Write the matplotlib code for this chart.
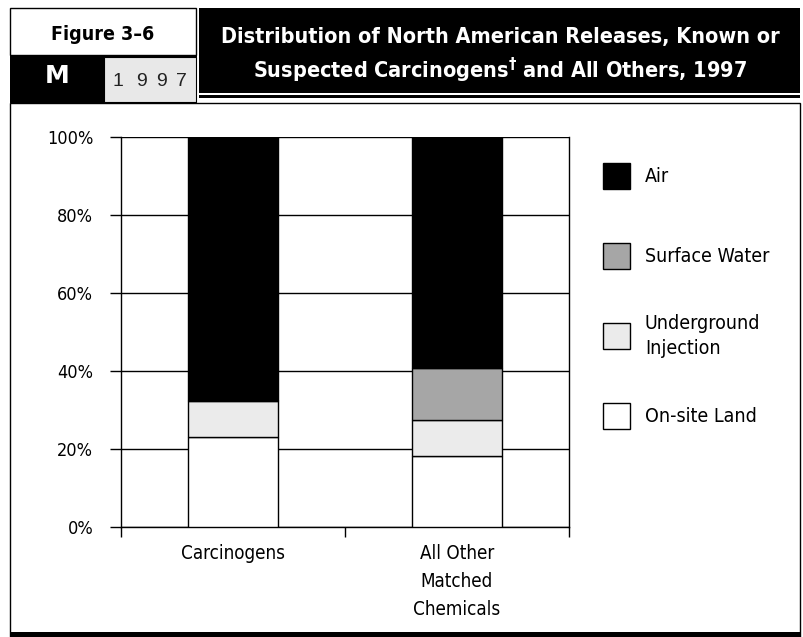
import matplotlib
matplotlib.use("Agg")
import matplotlib.pyplot as plt
from matplotlib import font_manager
from matplotlib.font_manager import FontProperties
from matplotlib.patches import Rectangle
import numpy as np

categories = ["Carcinogens", "All Other\nMatched\nChemicals"]
series_names = ["On-site Land", "Underground Injection", "Surface Water", "Air"]
onsite_land = [23.0, 18.2]
underground = [9.3, 9.2]
surface_water = [0.2, 13.4]
air = [67.5, 59.2]
series_values = [onsite_land, underground, surface_water, air]
series_colors = ["#ffffff", "#ebebeb", "#a6a6a6", "#000000"]
legend_labels = ["Air", "Surface Water", "Underground\nInjection", "On-site Land"]
legend_colors = ["#000000", "#a6a6a6", "#ebebeb", "#ffffff"]
yticks = [0, 20, 40, 60, 80, 100]
ytick_labels = ["0%", "20%", "40%", "60%", "80%", "100%"]
year_text = "1997"

# find condensed fonts
cond_reg = None
cond_bold = None
for f in font_manager.fontManager.ttflist:
    fn = f.fname.lower()
    if ("narrow" in fn or "condensed" in fn) and "oblique" not in fn and "italic" not in fn:
        if "bold" in fn:
            if cond_bold is None or "liberation" in fn:
                cond_bold = f.fname
        else:
            if cond_reg is None or "liberation" in fn:
                cond_reg = f.fname

def fp(size, bold=False):
    path = cond_bold if bold else cond_reg
    if path:
        return FontProperties(fname=path, size=size)
    return FontProperties(family="DejaVu Sans", size=size * 0.85,
                          weight="bold" if bold else "normal")

W, H = 804, 637
fig = plt.figure(figsize=(W / 100, H / 100), dpi=100)

def px_rect(x0, y0, x1, y1, z=-5, **kw):
    fig.add_artist(Rectangle((x0 / W, 1 - y1 / H), (x1 - x0) / W, (y1 - y0) / H,
                             transform=fig.transFigure, zorder=z, **kw))

def px_text(x, y, s, **kw):
    fig.text(x / W, 1 - y / H, s, **kw)

# header
px_rect(10, 8, 196, 55, facecolor="white", edgecolor="black", lw=1)
px_rect(10, 55, 197, 103, facecolor="black", edgecolor="black", lw=0)
px_rect(104, 57, 196, 102, facecolor="#e8e8e8", edgecolor="black", lw=0.8, z=-4)
px_rect(199, 8, 800, 93, facecolor="black", edgecolor="black", lw=0)
px_rect(199, 95.5, 800, 97.5, facecolor="black", edgecolor="none", lw=0)
# panel
px_rect(10, 103, 800, 637, facecolor="white", edgecolor="black", lw=1, z=-6)
px_rect(10, 632, 800, 637, facecolor="black", edgecolor="none", lw=0)

px_text(103, 40, "Figure 3\u20136", ha="center", va="baseline", fontproperties=fp(14, True))
px_text(57, 83, "M", ha="center", va="baseline", fontsize=18, fontweight="bold",
        color="white", family="DejaVu Sans")
for xc, ch in zip([118, 142, 162, 181], year_text):
    px_text(xc, 86, ch, ha="center", va="baseline", fontsize=14, color="#222222",
            family="Liberation Sans")
px_text(500, 43, "Distribution of North American Releases, Known or",
        ha="center", va="baseline", fontproperties=fp(15.5, True), color="white")
px_text(500, 78, "Suspected Carcinogens$^{\\mathbf{\u2020}}$ and All Others, 1997",
        ha="center", va="baseline", fontproperties=fp(15.5, True), color="white")

# axes
ax = fig.add_axes([121 / W, (H - 527) / H, 448 / W, 390 / H])
ax.patch.set_alpha(0)
x = np.array([0.5, 1.5])
bottom = np.zeros(2)
for vals, col in zip(series_values, series_colors):
    ax.bar(x, vals, width=0.4, bottom=bottom, color=col, edgecolor="black",
           linewidth=1, zorder=3)
    bottom += np.array(vals)

ax.set_xlim(0, 2)
ax.set_ylim(0, 100)
ax.set_yticks(yticks)
ax.set_yticklabels(ytick_labels, fontproperties=fp(13))
ax.yaxis.grid(True, color="black", linewidth=1, zorder=0)
ax.set_axisbelow(True)
ax.set_xticks([0, 1, 2])
ax.set_xticklabels(["", "", ""])
ax.set_xticks(x, minor=True)
ax.set_xticklabels(categories, minor=True, fontproperties=fp(13.5), linespacing=1.6, va="top")
ax.tick_params(axis="x", which="minor", length=0, pad=12)
ax.tick_params(axis="x", which="major", length=7, width=1, direction="out")
ax.tick_params(axis="y", length=8, width=1, direction="out", pad=12)
for s in ["left", "right", "bottom"]:
    ax.spines[s].set_linewidth(1)
ax.spines["top"].set_visible(False)

# legend
leg_y = [176, 256, 336, 416]
for yy, lab, col in zip(leg_y, legend_labels, legend_colors):
    px_rect(603, yy - 13, 630, yy + 13, z=2, facecolor=col, edgecolor="black", lw=1)
    px_text(645, yy, lab, ha="left", va="center", fontproperties=fp(14), linespacing=1.35)

fig.savefig("out.png", dpi=100)
